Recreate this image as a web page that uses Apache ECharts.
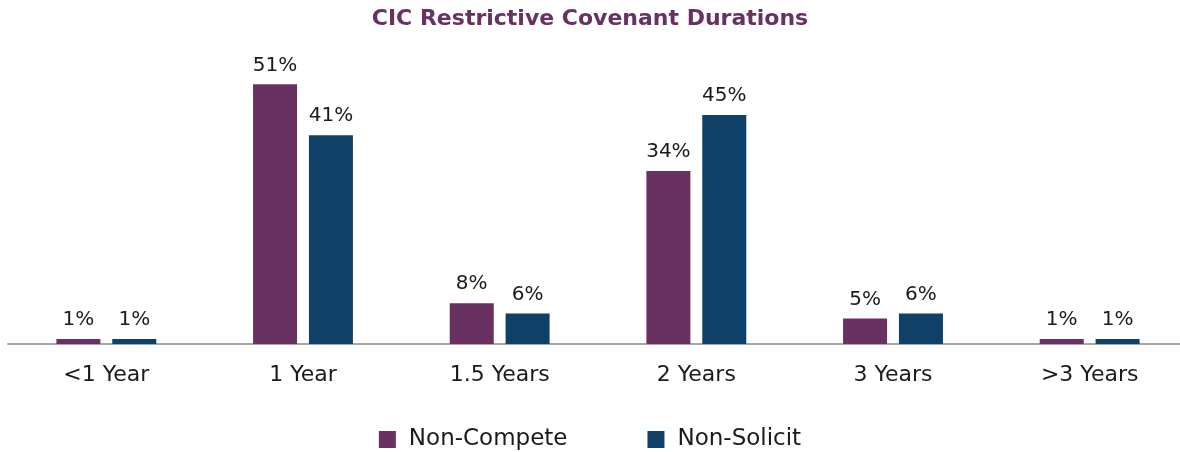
<!DOCTYPE html>
<html>
<head>
<meta charset="utf-8">
<style>
  html, body { margin: 0; padding: 0; background: #fff; }
  #chart { width: 1180px; height: 452px; }
</style>
<script src="https://cdn.jsdelivr.net/npm/echarts@6/dist/echarts.min.js"></script>
</head>
<body>
<div id="chart"></div>
<script>
// Durations of change-in-control restrictive covenants (% of companies)
const categories = ['<1 Year', '1 Year', '1.5 Years', '2 Years', '3 Years', '>3 Years'];
const nonCompete = [1, 51, 8, 34, 5, 1];
const nonSolicit = [1, 41, 6, 45, 6, 1];

const FONT = '"DejaVu Sans", "Open Sans", sans-serif';
const PURPLE = '#693062';
const NAVY = '#0f4168';

const chart = echarts.init(document.getElementById('chart'));

const labelStyle = {
  show: true,
  position: 'top',
  distance: 9,
  formatter: p => p.value + '%',
  fontFamily: FONT,
  fontSize: 20,
  color: '#1a1a1a'
};

chart.setOption({
  animation: false,
  title: {
    text: 'CIC Restrictive Covenant Durations',
    left: 'center',
    top: 3,
    textStyle: { fontFamily: FONT, fontSize: 22, fontWeight: 'bold', color: PURPLE }
  },
  legend: {
    top: 423,
    left: 'center',
    itemWidth: 17,
    itemHeight: 17,
    itemGap: 80,
    icon: 'rect',
    textStyle: { fontFamily: FONT, fontSize: 23, color: '#1a1a1a', padding: [0, 0, 0, 8] },
    data: ['Non-Compete', 'Non-Solicit']
  },
  grid: { left: 8, width: 1180, top: 64, bottom: 108, outerBoundsMode: 'none', containLabel: false },
  xAxis: {
    type: 'category',
    data: categories,
    axisLine: { lineStyle: { color: '#a6a6a6', width: 2 } },
    axisTick: { show: false },
    axisLabel: { fontFamily: FONT, fontSize: 22, color: '#1a1a1a', margin: 20 }
  },
  yAxis: {
    type: 'value',
    min: 0,
    max: 55,
    show: false,
    splitLine: { show: false }
  },
  series: [
    {
      name: 'Non-Compete',
      type: 'bar',
      data: nonCompete,
      barWidth: 44,
      barGap: '27%',
      itemStyle: { color: PURPLE },
      label: labelStyle
    },
    {
      name: 'Non-Solicit',
      type: 'bar',
      data: nonSolicit,
      barWidth: 44,
      itemStyle: { color: NAVY },
      label: labelStyle
    }
  ]
});
</script>
</body>
</html>
